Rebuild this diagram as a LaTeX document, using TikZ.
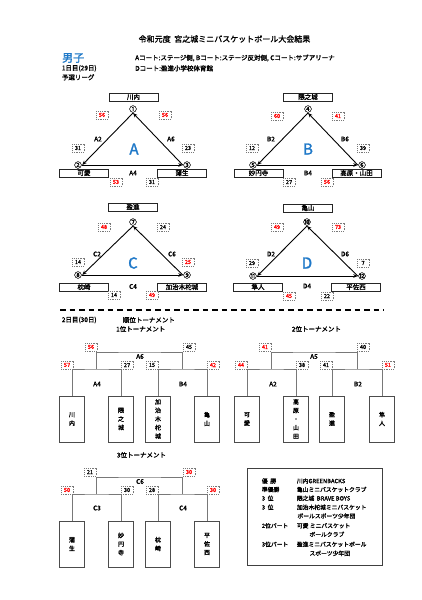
\documentclass[tikz,border=0pt]{standalone}
\usepackage{fontspec}
\setmainfont{Noto Sans CJK JP}[AutoFakeBold=1.6]
\usetikzlibrary{arrows.meta}
\definecolor{jred}{RGB}{255,0,0}
\definecolor{jblue}{RGB}{30,120,200}
\definecolor{lgray}{RGB}{120,120,120}
\newcommand{\jfs}[1]{\fontsize{#1}{#1}\selectfont\bfseries}
\begin{document}
\begin{tikzpicture}[x=1pt,y=-1pt,
 team/.style={draw=black!85, line width=0.6pt, minimum width=49pt, minimum height=8pt, inner sep=0pt, font=\jfs{6.5}},
 sc/.style={draw=lgray, dash pattern=on 1pt off 0.8pt, line width=0.5pt, minimum width=12pt, minimum height=8pt, inner sep=0pt, font=\jfs{5.5}},
 win/.style={sc, text=jred},
 num/.style={inner sep=0.3pt, font=\jfs{7.5}},
 lbl/.style={inner sep=0pt, font=\jfs{6.5}},
 big/.style={inner sep=0pt, text=jblue, font=\jfs{15}},
 arr/.style={line width=0.9pt, -{Stealth[length=4.5pt,width=3.6pt]}},
 tl/.style={draw=lgray, line width=0.9pt},
 vbox/.style={draw=black!70, line width=0.6pt, minimum width=25pt, minimum height=46pt, inner sep=0pt, align=center, font=\fontsize{6}{8.6}\selectfont\bfseries},
 txt/.style={inner sep=0pt, anchor=west, font=\jfs{6.5}},
 res/.style={inner sep=0pt, anchor=west, font=\jfs{5.8}},
]
\useasboundingbox (0,0) rectangle (422,600);
\fill[white] (0,0) rectangle (422,600);

% header
\node[inner sep=0pt, font=\jfs{8}] (title) at (224.5,39) {令和元度\ \ 宮之城ミニバスケットボール大会結果};
\node[inner sep=0pt, anchor=west, text=jblue, font=\jfs{11}] (boys) at (62,58) {男子};
\node[txt] (courts1) at (135,58) {Aコート:ステージ側, Bコート:ステージ反対側, Cコート:サブアリーナ};
\node[txt] (courts2) at (135,68.3) {Dコート:盈進小学校体育館};
\node[txt] (day1) at (61.7,68.3) {1日目(29日)};
\node[txt] (league) at (61.7,77.3) {予選リーグ};

% ---------- Group A
\node[team] (tA1) at (133.5,97) {川内};
\node[num] (n1) at (133,109) {①};
\node[num] (n2) at (78,165) {②};
\node[num] (n3) at (187,165) {③};
\node[team] (tA2) at (84,173) {可愛};
\node[team] (tA3) at (182,173) {蒲生};
\draw[arr] (n1.south) -- (n2.east);
\draw[arr] (n2.east) -- (n3.west);
\draw[arr] (n3.west) -- (n1.south);
\node[win] (sA1) at (102,115) {56};
\node[win] (sA2) at (165,115) {56};
\node[sc] (sA3) at (78,148) {31};
\node[sc] (sA4) at (188,148) {23};
\node[win] (sA5) at (116,182) {53};
\node[sc] (sA6) at (152,182) {31};
\node[lbl] (lA2) at (98,139) {A2};
\node[lbl] (lA6) at (171,139) {A6};
\node[lbl] (lA4) at (133,173) {A4};
\node[big] (bA) at (134,149) {A};

% ---------- Group B
\node[team] (tB1) at (308,97) {隈之城};
\node[num] (n4) at (308,109) {④};
\node[num] (n5) at (253,165) {⑤};
\node[num] (n6) at (362,165) {⑥};
\node[team] (tB2) at (258.5,173) {妙円寺};
\node[team] (tB3) at (356.5,173) {高原・山田};
\draw[arr] (n4.south) -- (n5.east);
\draw[arr] (n5.east) -- (n6.west);
\draw[arr] (n6.west) -- (n4.south);
\node[win] (sB1) at (277,116) {60};
\node[win] (sB2) at (338,116) {41};
\node[sc] (sB3) at (252,148) {12};
\node[sc] (sB4) at (363,148) {39};
\node[sc] (sB5) at (289,182) {27};
\node[win] (sB6) at (327,182) {56};
\node[lbl] (lB2) at (271,139) {B2};
\node[lbl] (lB6) at (345,139) {B6};
\node[lbl] (lB4) at (308,173) {B4};
\node[big] (bB) at (308,149) {B};

% ---------- Group C
\node[team] (tC1) at (133,207) {盈進};
\node[num] (n7) at (133,222) {⑦};
\node[num] (n8) at (78,275) {⑧};
\node[num] (n9) at (187,275) {⑨};
\node[team] (tC2) at (84,287) {枕崎};
\node[team] (tC3) at (182,287) {加治木柁城};
\draw[arr] (n7.south) -- (n8.east);
\draw[arr] (n8.east) -- (n9.west);
\draw[arr] (n9.west) -- (n7.south);
\node[win] (sC1) at (104,227) {48};
\node[sc] (sC2) at (163,227) {24};
\node[sc] (sC3) at (78,262) {14};
\node[win] (sC4) at (188,262) {25};
\node[sc] (sC5) at (114,295) {14};
\node[win] (sC6) at (152,295) {49};
\node[lbl] (lC2) at (97,254) {C2};
\node[lbl] (lC6) at (172,254) {C6};
\node[lbl] (lC4) at (133,286.5) {C4};
\node[big] (bC) at (133,263) {C};

% ---------- Group D
\node[team] (tD1) at (308,208) {亀山};
\node[num] (n10) at (307,222) {⑩};
\node[num] (n11) at (253,276) {⑪};
\node[num] (n12) at (362,276) {⑫};
\node[team] (tD2) at (258,287) {隼人};
\node[team] (tD3) at (356,287) {平佐西};
\draw[arr] (n10.south) -- (n11.east);
\draw[arr] (n11.east) -- (n12.west);
\draw[arr] (n12.west) -- (n10.south);
\node[win] (sD1) at (277,227) {49};
\node[win] (sD2) at (338,227) {73};
\node[sc] (sD3) at (252,263) {29};
\node[sc] (sD4) at (363,263) {7};
\node[win] (sD5) at (289,296) {45};
\node[sc] (sD6) at (327,296) {22};
\node[lbl] (lD2) at (271,254) {D2};
\node[lbl] (lD6) at (345,254) {D6};
\node[lbl] (lD4) at (307,286) {D4};
\node[big] (bD) at (307,263) {D};

% separator
\coordinate (sepL) at (60,310);
\coordinate (sepR) at (384,310);
\draw[line width=1.1pt, dash pattern=on 5.5pt off 4pt] (sepL) -- (sepR);

\node[txt] (day2) at (61.7,320) {2日目(30日)};
\node[txt] (rank) at (122.7,320) {順位トーナメント};
\node[txt] (t1h) at (116,329) {1位トーナメント};
\node[txt] (t2h) at (291.7,329) {2位トーナメント};
\node[txt] (t3h) at (116.7,455) {3位トーナメント};

% ---------- 1st tournament
\node[vbox] (v1) at (72,419) {川\\内};
\node[vbox] (v2) at (121,419) {隈\\之\\城};
\node[vbox] (v3) at (158,419) {加\\治\\木\\柁\\城};
\node[vbox] (v4) at (207,419) {亀\\山};
\coordinate (m1) at (96.5,369);
\coordinate (m2) at (182,369);
\coordinate (k1) at (140,352);
\draw[tl] (v1.north) |- (m1) -| (v2.north);
\draw[tl] (v3.north) |- (m2) -| (v4.north);
\draw[tl] (m1) |- (k1) -| (m2);
\node[win] (s11) at (91,347) {56};
\node[sc] (s12) at (189,347) {45};
\node[win] (s13) at (67,365) {57};
\node[sc] (s14) at (127,365) {27};
\node[sc] (s15) at (152,365) {15};
\node[win] (s16) at (213,365) {42};
\node[lbl] (g1) at (140,356.5) {A6};
\node[lbl] (g2) at (97,384) {A4};
\node[lbl] (g3) at (183,384) {B4};

% ---------- 2nd tournament
\node[vbox] (v5) at (247,419) {可\\愛};
\node[vbox] (v6) at (296,419) {高\\原\\・\\山\\田};
\node[vbox] (v7) at (332,419) {盈\\進};
\node[vbox] (v8) at (382,419) {隼\\人};
\coordinate (m3) at (271.5,369);
\coordinate (m4) at (357,369);
\coordinate (k2) at (314,352);
\draw[tl] (v5.north) |- (m3) -| (v6.north);
\draw[tl] (v7.north) |- (m4) -| (v8.north);
\draw[tl] (m3) |- (k2) -| (m4);
\node[win] (s21) at (265,347) {41};
\node[sc] (s22) at (363,347) {40};
\node[win] (s23) at (241,365) {44};
\node[sc] (s24) at (302,365) {38};
\node[sc] (s25) at (326,365) {41};
\node[win] (s26) at (388,365) {51};
\node[lbl] (g4) at (314,356.5) {A5};
\node[lbl] (g5) at (273,384) {A2};
\node[lbl] (g6) at (358,384) {B2};

% ---------- 3rd tournament
\node[vbox] (v9) at (72,544) {蒲\\生};
\node[vbox] (v10) at (121,544) {妙\\円\\寺};
\node[vbox] (v11) at (158,544) {枕\\崎};
\node[vbox] (v12) at (207,544) {平\\佐\\西};
\coordinate (m5) at (96.5,494);
\coordinate (m6) at (182,494);
\coordinate (k3) at (140,477);
\draw[tl] (v9.north) |- (m5) -| (v10.north);
\draw[tl] (v11.north) |- (m6) -| (v12.north);
\draw[tl] (m5) |- (k3) -| (m6);
\node[sc] (s31) at (90,472) {21};
\node[win] (s32) at (189,472) {30};
\node[win] (s33) at (67,490) {50};
\node[sc] (s34) at (127,490) {30};
\node[sc] (s35) at (152,490) {28};
\node[win] (s36) at (213,490) {30};
\node[lbl] (g7) at (140,481.5) {C6};
\node[lbl] (g8) at (97,508) {C3};
\node[lbl] (g9) at (183,508) {C4};

% ---------- results
\node[draw=black!75, line width=0.7pt, minimum width=135pt, minimum height=97pt, inner sep=0pt] (resbox) at (314.5,516.5) {};
\node[res] (r1a) at (261.7,481) {優\ \ 勝};
\node[res] (r1b) at (296.7,481) {川内GREENBACKS};
\node[res] (r2a) at (261.7,489.5) {準優勝};
\node[res] (r2b) at (296.7,489.5) {亀山ミニバスケットクラブ};
\node[res] (r3a) at (261.7,498.3) {3\ \ 位};
\node[res] (r3b) at (296.7,498.3) {隈之城\ \ BRAVE BOYS};
\node[res] (r4a) at (261.7,507.3) {3\ \ 位};
\node[res] (r4b) at (296.7,507.3) {加治木柁城ミニバスケット};
\node[res] (r4c) at (297.3,516) {ボールスポーツ少年団};
\node[res] (r5a) at (261.7,525.7) {2位パート};
\node[res] (r5b) at (296.7,525.7) {可愛\ ミニバスケット};
\node[res] (r5c) at (309.3,534.3) {ボールクラブ};
\node[res] (r6a) at (261.7,544.3) {3位パート};
\node[res] (r6b) at (296.7,544.3) {盈進ミニバスケットボール};
\node[res] (r6c) at (309.3,553.3) {スポーツ少年団};
\end{tikzpicture}
\end{document}
